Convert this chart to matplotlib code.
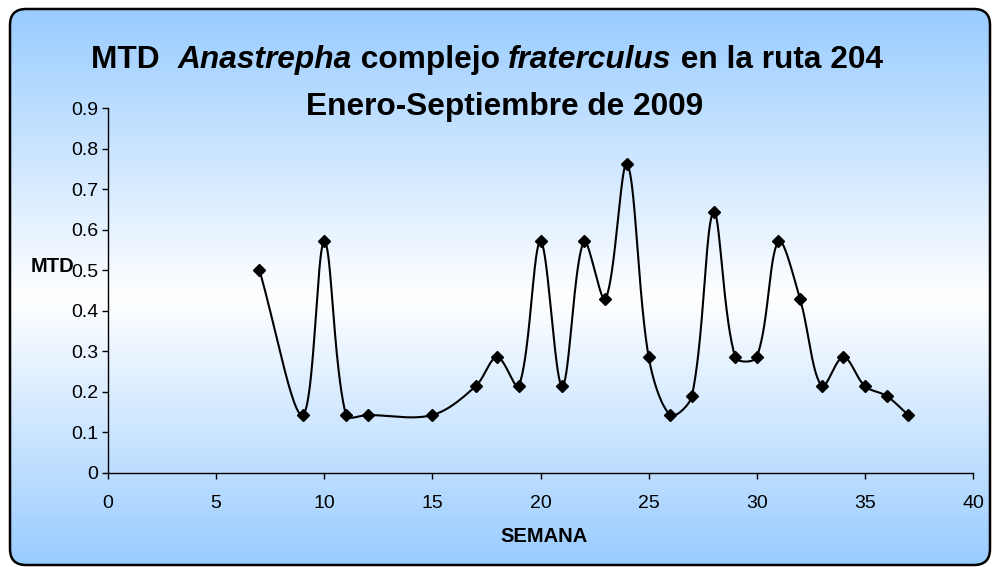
import numpy as np
import matplotlib
matplotlib.use("Agg")
import matplotlib.pyplot as plt
from matplotlib.patches import FancyBboxPatch
from matplotlib.colors import LinearSegmentedColormap

plt.rcParams["font.family"] = ["Liberation Sans", "DejaVu Sans"]

# Data
semana = [7, 9, 10, 11, 12, 15, 17, 18, 19, 20, 21, 22, 23, 24, 25, 26, 27,
          28, 29, 30, 31, 32, 33, 34, 35, 36, 37]
mtd = [0.500, 0.143, 0.571, 0.143, 0.143, 0.143, 0.214, 0.286, 0.214, 0.571,
       0.214, 0.571, 0.429, 0.762, 0.286, 0.143, 0.190, 0.643, 0.286, 0.286,
       0.571, 0.429, 0.214, 0.286, 0.214, 0.190, 0.143]
x_ticks = [0, 5, 10, 15, 20, 25, 30, 35, 40]
y_ticks = [0, 0.1, 0.2, 0.3, 0.4, 0.5, 0.6, 0.7, 0.8, 0.9]
title_parts = [("MTD  ", "normal"), ("Anastrepha", "italic"), (" complejo ", "normal"),
               ("fraterculus", "italic"), (" en la ruta 204", "normal")]
subtitle = "Enero-Septiembre de 2009"


def smooth_curve(ax, x, y, n=40):
    """Excel-like smoothed line: Bezier segments, tangents weighted by segment length (in pixels)."""
    pts = ax.transData.transform(np.column_stack([x, y]))
    npts = len(pts)
    out = []
    t = np.linspace(0, 1, n)[:, None]
    for i in range(npts - 1):
        p0, p3 = pts[i], pts[i + 1]
        d = np.linalg.norm(p3 - p0)
        prev = pts[i - 1] if i > 0 else p0
        nxt = pts[i + 2] if i + 2 < npts else p3
        d_prev = np.linalg.norm(p0 - prev)
        d_next = np.linalg.norm(nxt - p3)
        tan0 = pts[i + 1] - prev
        tan1 = nxt - pts[i]
        p1 = p0 + tan0 * d / (d_prev + d) / 3
        p2 = p3 - tan1 * d / (d + d_next) / 3
        seg = ((1 - t) ** 3) * p0 + 3 * ((1 - t) ** 2) * t * p1 + 3 * (1 - t) * t ** 2 * p2 + t ** 3 * p3
        out.append(seg)
    curve = ax.transData.inverted().transform(np.vstack(out))
    return curve[:, 0], curve[:, 1]


def mixed_title(fig, parts, xc, y, size):
    """Draw one bold title line made of normal/italic pieces, centred at xc (figure fraction)."""
    renderer = fig.canvas.get_renderer()
    texts = [fig.text(0, y, s, fontsize=size, fontweight="bold", fontstyle=st,
                      va="baseline", ha="left", zorder=5) for s, st in parts]
    widths = [tx.get_window_extent(renderer).width / fig.bbox.width for tx in texts]
    x = xc - sum(widths) / 2
    for tx, w in zip(texts, widths):
        tx.set_x(x)
        x += w


fig = plt.figure(figsize=(9.92, 5.67), dpi=100)

# Gradient background (blue - white - blue) inside a rounded frame
bg = fig.add_axes([0, 0, 1, 1], zorder=0)
bg.set_xlim(0, 992)
bg.set_ylim(567, 0)
bg.axis("off")
cmap = LinearSegmentedColormap.from_list("bg", [(0, "#99ccff"), (0.52, "#ffffff"), (1, "#99ccff")])
grad = np.linspace(0, 1, 256)[:, None]
frame = FancyBboxPatch((10, 9), 980, 556, boxstyle="round,pad=0,rounding_size=16",
                       facecolor="none", edgecolor="black", linewidth=1.8, zorder=3)
bg.add_patch(frame)
im = bg.imshow(grad, cmap=cmap, extent=[10, 990, 565, 9], aspect="auto", zorder=1)
im.set_clip_path(frame)

ax = fig.add_axes([0.1089, 0.1658, 0.872, 0.6437], zorder=1)
ax.patch.set_alpha(0)
ax.set_xlim(0, 40)
ax.set_ylim(0, 0.9)
xs, ys = smooth_curve(ax, semana, mtd)
ax.plot(xs, ys, color="black", linewidth=1.5, solid_capstyle="round")
ax.plot(semana, mtd, linestyle="none", marker="D", markersize=6.5,
        color="black")

ax.set_xticks(x_ticks)
ax.set_yticks(y_ticks)
ax.set_xticklabels([str(v) for v in x_ticks])
ax.set_yticklabels(["0"] + [f"{v:.1f}" for v in y_ticks[1:]])
ax.tick_params(labelsize=14, direction="out", length=4.5, width=1, pad=2.5)
ax.tick_params(axis="x", pad=11.5)
for side in ["top", "right"]:
    ax.spines[side].set_visible(False)
for side in ["left", "bottom"]:
    ax.spines[side].set_linewidth(1)

fig.text(544 / 992, 1 - 537 / 567, "SEMANA", fontsize=14.5, fontweight="bold",
         ha="center", va="center", zorder=5)
fig.text(31 / 992, 1 - 267 / 567, "MTD", fontsize=14.5, fontweight="bold",
         va="center", ha="left", zorder=5)

mixed_title(fig, title_parts, 487 / 992, 1 - 68 / 567, 22.8)
fig.text(505 / 992, 1 - 115 / 567, subtitle, fontsize=22.8,
         fontweight="bold", ha="center", va="baseline", zorder=5)

fig.savefig("out.png", dpi=100)
